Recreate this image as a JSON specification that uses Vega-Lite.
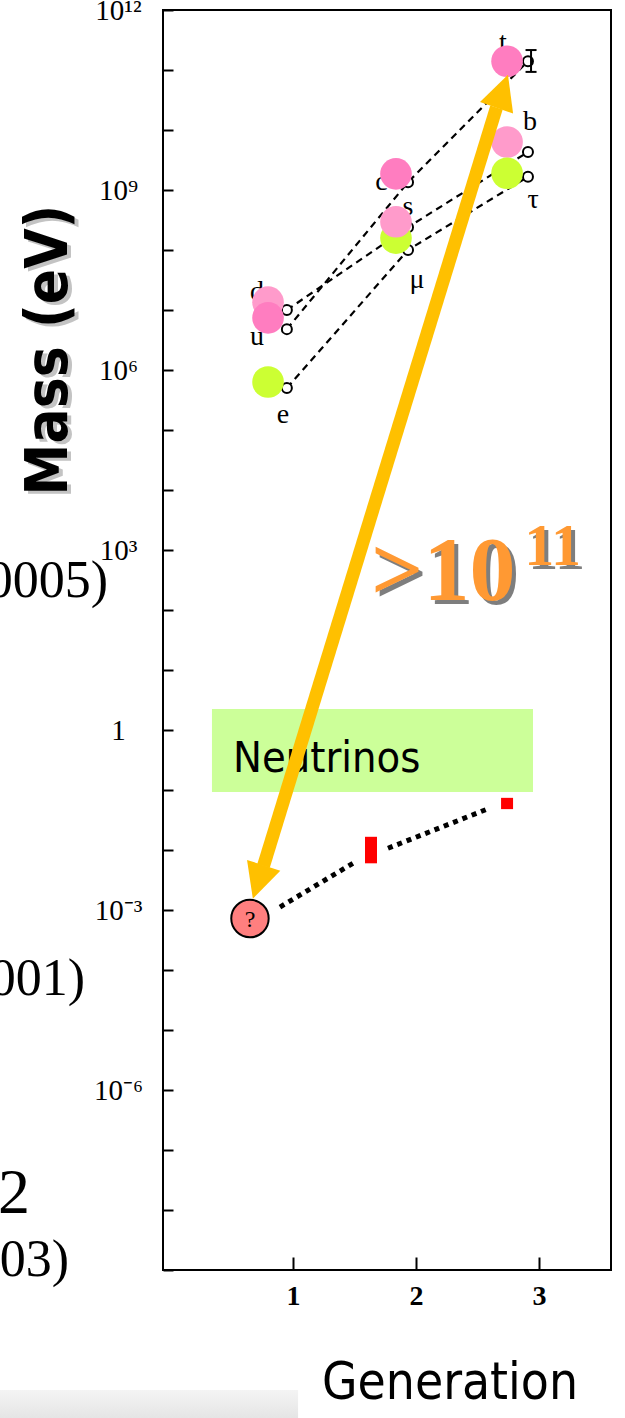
{
  "$schema": "https://vega.github.io/schema/vega-lite/v6.json",
  "width": 448,
  "height": 1260,
  "autosize": {"type": "none"},
  "padding": {"left": 163, "top": 10, "right": 14, "bottom": 148},
  "background": "white",
  "config": {
    "view": {"stroke": "black", "strokeWidth": 2},
    "axis": {"grid": false, "domain": false, "tickColor": "black", "tickWidth": 2, "labelColor": "black", "labelOverlap": false}
  },
  "datasets": {
    "footer_band": [{"g": -1.4, "g2": 1.041, "m": 1e-11, "m2": 1e-12}],
    "side_text": [
      {"kind": "citation", "text": "0005)", "g": -0.504, "m": 164.8},
      {"kind": "citation", "text": "001)", "g": -0.691, "m": 3.83e-5},
      {"kind": "number", "text": "2", "g": -1.138, "m": 8.9e-9},
      {"kind": "citation", "text": "03)", "g": -0.82, "m": 7.94e-10}
    ],
    "neutrino_box": [{"label": "Neutrinos", "g": 0.341, "g2": 2.951, "m": 2.24, "m2": 0.0926, "gl": 0.512, "ml": 0.1995}],
    "fermions": [
      {"particle": "d", "type": "down", "chain": "d-s-b", "g": 0.95, "m": 1.0e7, "gf": 0.797, "mf": 1.35e7, "gl": 0.707, "ml": 2.0e7},
      {"particle": "u", "type": "up", "chain": "u-c-t", "g": 0.95, "m": 4.8e6, "gf": 0.797, "mf": 7.4e6, "gl": 0.707, "ml": 3.5e6},
      {"particle": "e", "type": "lepton", "chain": "e-mu-tau", "g": 0.95, "m": 5.0e5, "gf": 0.797, "mf": 6.3e5, "gl": 0.919, "ml": 1.8e5},
      {"particle": "c", "type": "up", "chain": "u-c-t", "g": 1.935, "m": 1.35e9, "gf": 1.837, "mf": 1.86e9, "gl": 1.72, "ml": 1.35e9},
      {"particle": "μ", "type": "lepton", "chain": "e-mu-tau", "g": 1.935, "m": 1.0e8, "gf": 1.837, "mf": 1.58e8, "gl": 2.008, "ml": 3.2e7},
      {"particle": "s", "type": "down", "chain": "d-s-b", "g": 1.935, "m": 2.4e8, "gf": 1.837, "mf": 2.95e8, "gl": 1.935, "ml": 5.2e8},
      {"particle": "b", "type": "down", "chain": "d-s-b", "g": 2.91, "m": 4.3e9, "gf": 2.74, "mf": 6.3e9, "gl": 2.927, "ml": 1.35e10},
      {"particle": "τ", "type": "lepton", "chain": "e-mu-tau", "g": 2.91, "m": 1.66e9, "gf": 2.74, "mf": 1.9e9, "gl": 2.951, "ml": 6.8e8},
      {"particle": "t", "type": "up", "chain": "u-c-t", "g": 2.91, "m": 1.4e11, "gf": 2.74, "mf": 1.4e11, "gl": 2.707, "ml": 2.8e11}
    ],
    "top_error": [{"g": 2.935, "m": 2.15e11, "m2": 9.3e10}],
    "nu_links": [
      {"seg": "1-2", "g": 0.894, "m": 1.12e-3},
      {"seg": "1-2", "g": 1.504, "m": 6.3e-3},
      {"seg": "2-3", "g": 1.772, "m": 1.07e-2},
      {"seg": "2-3", "g": 2.6, "m": 5.0e-2}
    ],
    "nu_ranges": [
      {"gen": 2, "g": 1.634, "m": 6.0e-3, "m2": 1.66e-2},
      {"gen": 3, "g": 2.74, "m": 4.8e-2, "m2": 7.4e-2}
    ],
    "nu_lightest": [{"label": "?", "g": 0.65, "m": 7.2e-4}],
    "span_shaft": [
      {"end": "low", "g": 0.76, "m": 5.41e-3},
      {"end": "high", "g": 2.654, "m": 2.37e10}
    ],
    "span_heads": [
      {"end": "high", "g": 2.701, "m": 4.43e10},
      {"end": "low", "g": 0.7175, "m": 2.93e-3}
    ],
    "ratio_text": [
      {"part": "base", "text": ">10", "g": 1.634, "m": 146.8},
      {"part": "exp", "text": "11", "g": 2.88, "m": 560}
    ],
    "mass_title": [{"text": "Mass (eV)", "g": -0.976, "m": 2.15e6}]
  },
  "layer": [
    {
      "data": {"name": "footer_band"},
      "mark": {"type": "rect", "color": {"gradient": "linear", "x1": 0, "y1": 0, "x2": 0, "y2": 1, "stops": [{"offset": 0, "color": "#f4f4f4"}, {"offset": 1, "color": "#d4d4d4"}]}},
      "encoding": {
        "x": {
          "field": "g", "type": "quantitative", "title": "Generation",
          "scale": {"domain": [-0.057, 3.585], "zero": false, "nice": false},
          "axis": {
            "values": [1, 2, 3], "format": "d", "tickSize": -13, "labelPadding": 25,
            "labelFont": "Liberation Serif", "labelFontSize": 28, "labelFontWeight": "bold",
            "title": "Generation", "titleFont": "Liberation Sans Narrow, DejaVu Sans Condensed, sans-serif",
            "titleFontSize": 51, "titleFontWeight": "normal", "titleColor": "black",
            "titleX": 286.5, "titleY": 128, "titleBaseline": "alphabetic", "titleAlign": "center"
          }
        },
        "x2": {"field": "g2"},
        "y": {
          "field": "m", "type": "quantitative", "title": "Mass (eV)",
          "scale": {"type": "log", "domain": [1e-9, 1e12], "nice": false},
          "axis": {
            "values": [1e-9, 1e-8, 1e-7, 1e-6, 1e-5, 1e-4, 1e-3, 1e-2, 1e-1, 1, 10, 100, 1000, 1e4, 1e5, 1e6, 1e7, 1e8, 1e9, 1e10, 1e11, 1e12],
            "labelExpr": "['','','','10⁻⁶','','','10⁻³','','','1','','','10³','','','10⁶','','','10⁹','','','10¹²'][round(log(datum.value)/LN10)+9]",
            "tickSize": -10, "labelPadding": 55, "labelAlign": "center", "labelBaseline": "middle",
            "labelFont": "Liberation Serif", "labelFontSize": 29, "title": null
          }
        },
        "y2": {"field": "m2"}
      }
    },
    {
      "data": {"name": "side_text"},
      "transform": [{"filter": "datum.kind == 'citation'"}],
      "mark": {"type": "text", "align": "right", "baseline": "alphabetic", "font": "Liberation Serif", "fontSize": 52, "color": "black"},
      "encoding": {
        "x": {"field": "g", "type": "quantitative", "title": "Generation"},
        "y": {"field": "m", "type": "quantitative", "title": "Mass (eV)"},
        "text": {"field": "text"}
      }
    },
    {
      "data": {"name": "side_text"},
      "transform": [{"filter": "datum.kind == 'number'"}],
      "mark": {"type": "text", "align": "right", "baseline": "alphabetic", "font": "Liberation Serif", "fontSize": 64, "color": "black"},
      "encoding": {
        "x": {"field": "g", "type": "quantitative", "title": "Generation"},
        "y": {"field": "m", "type": "quantitative", "title": "Mass (eV)"},
        "text": {"field": "text"}
      }
    },
    {
      "data": {"name": "neutrino_box"},
      "mark": {"type": "rect", "color": "#CCFF99"},
      "encoding": {
        "x": {"field": "g", "type": "quantitative", "title": "Generation"},
        "x2": {"field": "g2"},
        "y": {"field": "m", "type": "quantitative", "title": "Mass (eV)"},
        "y2": {"field": "m2"}
      }
    },
    {
      "data": {"name": "neutrino_box"},
      "mark": {"type": "text", "align": "left", "baseline": "alphabetic", "font": "Liberation Sans Narrow, DejaVu Sans Condensed, sans-serif", "fontSize": 43, "color": "black"},
      "encoding": {
        "x": {"field": "gl", "type": "quantitative", "title": "Generation"},
        "y": {"field": "ml", "type": "quantitative", "title": "Mass (eV)"},
        "text": {"field": "label"}
      }
    },
    {
      "data": {"name": "fermions"},
      "mark": {"type": "line", "color": "black", "strokeWidth": 2.2, "strokeDash": [7, 5]},
      "encoding": {
        "x": {"field": "g", "type": "quantitative", "title": "Generation"},
        "y": {"field": "m", "type": "quantitative", "title": "Mass (eV)"},
        "detail": {"field": "chain"},
        "order": {"field": "g"}
      }
    },
    {
      "data": {"name": "fermions"},
      "mark": {"type": "point", "shape": "circle", "size": 100, "filled": true, "fill": "white", "stroke": "black", "strokeWidth": 2, "opacity": 1},
      "encoding": {
        "x": {"field": "g", "type": "quantitative", "title": "Generation"},
        "y": {"field": "m", "type": "quantitative", "title": "Mass (eV)"}
      }
    },
    {
      "data": {"name": "top_error"},
      "mark": {"type": "rule", "color": "black", "strokeWidth": 2},
      "encoding": {
        "x": {"field": "g", "type": "quantitative", "title": "Generation"},
        "y": {"field": "m", "type": "quantitative", "title": "Mass (eV)"},
        "y2": {"field": "m2"}
      }
    },
    {
      "data": {"name": "top_error"},
      "mark": {"type": "tick", "orient": "horizontal", "size": 11, "thickness": 2, "color": "black", "opacity": 1},
      "encoding": {
        "x": {"field": "g", "type": "quantitative", "title": "Generation"},
        "y": {"field": "m", "type": "quantitative", "title": "Mass (eV)"}
      }
    },
    {
      "data": {"name": "top_error"},
      "mark": {"type": "tick", "orient": "horizontal", "size": 11, "thickness": 2, "color": "black", "opacity": 1},
      "encoding": {
        "x": {"field": "g", "type": "quantitative", "title": "Generation"},
        "y": {"field": "m2", "type": "quantitative", "title": "Mass (eV)"}
      }
    },
    {
      "data": {"name": "fermions"},
      "mark": {"type": "text", "align": "center", "baseline": "middle", "font": "Liberation Serif", "fontSize": 28, "color": "black"},
      "encoding": {
        "x": {"field": "gl", "type": "quantitative", "title": "Generation"},
        "y": {"field": "ml", "type": "quantitative", "title": "Mass (eV)"},
        "text": {"field": "particle"}
      }
    },
    {
      "data": {"name": "fermions"},
      "mark": {"type": "point", "shape": "circle", "size": 1000, "filled": true, "opacity": 1, "strokeWidth": 0},
      "encoding": {
        "x": {"field": "gf", "type": "quantitative", "title": "Generation"},
        "y": {"field": "mf", "type": "quantitative", "title": "Mass (eV)"},
        "color": {"field": "type", "type": "nominal", "scale": {"domain": ["up", "down", "lepton"], "range": ["#FF7DC0", "#FF9BCB", "#CCFF33"]}, "legend": null}
      }
    },
    {
      "data": {"name": "nu_links"},
      "mark": {"type": "line", "color": "black", "strokeWidth": 5, "strokeDash": [5, 5]},
      "encoding": {
        "x": {"field": "g", "type": "quantitative", "title": "Generation"},
        "y": {"field": "m", "type": "quantitative", "title": "Mass (eV)"},
        "detail": {"field": "seg"},
        "order": {"field": "g"}
      }
    },
    {
      "data": {"name": "nu_ranges"},
      "mark": {"type": "rule", "color": "#FF0000", "strokeWidth": 12},
      "encoding": {
        "x": {"field": "g", "type": "quantitative", "title": "Generation"},
        "y": {"field": "m", "type": "quantitative", "title": "Mass (eV)"},
        "y2": {"field": "m2"}
      }
    },
    {
      "data": {"name": "nu_lightest"},
      "mark": {"type": "point", "shape": "circle", "size": 1400, "filled": true, "fill": "#FF7F7F", "stroke": "black", "strokeWidth": 2, "opacity": 1},
      "encoding": {
        "x": {"field": "g", "type": "quantitative", "title": "Generation"},
        "y": {"field": "m", "type": "quantitative", "title": "Mass (eV)"}
      }
    },
    {
      "data": {"name": "nu_lightest"},
      "mark": {"type": "text", "align": "center", "baseline": "middle", "font": "Liberation Serif", "fontSize": 24, "color": "black", "dy": 1},
      "encoding": {
        "x": {"field": "g", "type": "quantitative", "title": "Generation"},
        "y": {"field": "m", "type": "quantitative", "title": "Mass (eV)"},
        "text": {"field": "label"}
      }
    },
    {
      "data": {"name": "span_shaft"},
      "mark": {"type": "line", "color": "#FFC000", "strokeWidth": 13},
      "encoding": {
        "x": {"field": "g", "type": "quantitative", "title": "Generation"},
        "y": {"field": "m", "type": "quantitative", "title": "Mass (eV)"}
      }
    },
    {
      "data": {"name": "span_heads"},
      "transform": [{"filter": "datum.end == 'high'"}],
      "mark": {"type": "point", "shape": "M0,-1L1,1L-1,1Z", "size": 1225, "angle": 19, "filled": true, "color": "#FFC000", "opacity": 1, "strokeWidth": 0},
      "encoding": {
        "x": {"field": "g", "type": "quantitative", "title": "Generation"},
        "y": {"field": "m", "type": "quantitative", "title": "Mass (eV)"}
      }
    },
    {
      "data": {"name": "span_heads"},
      "transform": [{"filter": "datum.end == 'low'"}],
      "mark": {"type": "point", "shape": "M0,-1L1,1L-1,1Z", "size": 1225, "angle": 198, "filled": true, "color": "#FFC000", "opacity": 1, "strokeWidth": 0},
      "encoding": {
        "x": {"field": "g", "type": "quantitative", "title": "Generation"},
        "y": {"field": "m", "type": "quantitative", "title": "Mass (eV)"}
      }
    },
    {
      "data": {"name": "ratio_text"},
      "mark": {"type": "text", "align": "left", "baseline": "alphabetic", "font": "Liberation Serif", "fontWeight": "bold", "color": "#2a2a2a", "opacity": 0.6, "dx": 4, "dy": 4},
      "encoding": {
        "x": {"field": "g", "type": "quantitative", "title": "Generation"},
        "y": {"field": "m", "type": "quantitative", "title": "Mass (eV)"},
        "text": {"field": "text"},
        "size": {"field": "part", "type": "nominal", "scale": {"domain": ["base", "exp"], "range": [92, 60]}, "legend": null}
      }
    },
    {
      "data": {"name": "ratio_text"},
      "mark": {"type": "text", "align": "left", "baseline": "alphabetic", "font": "Liberation Serif", "fontWeight": "bold", "color": "#FF9933"},
      "encoding": {
        "x": {"field": "g", "type": "quantitative", "title": "Generation"},
        "y": {"field": "m", "type": "quantitative", "title": "Mass (eV)"},
        "text": {"field": "text"},
        "size": {"field": "part", "type": "nominal", "scale": {"domain": ["base", "exp"], "range": [92, 60]}, "legend": null}
      }
    },
    {
      "data": {"name": "mass_title"},
      "mark": {"type": "text", "align": "center", "baseline": "middle", "angle": 270, "font": "Liberation Sans Narrow, DejaVu Sans Condensed, sans-serif", "fontWeight": "bold", "fontSize": 58, "color": "#888888", "opacity": 0.5, "dx": -3, "dy": 4},
      "encoding": {
        "x": {"field": "g", "type": "quantitative", "title": "Generation"},
        "y": {"field": "m", "type": "quantitative", "title": "Mass (eV)"},
        "text": {"field": "text"}
      }
    },
    {
      "data": {"name": "mass_title"},
      "mark": {"type": "text", "align": "center", "baseline": "middle", "angle": 270, "font": "Liberation Sans Narrow, DejaVu Sans Condensed, sans-serif", "fontWeight": "bold", "fontSize": 58, "color": "black"},
      "encoding": {
        "x": {"field": "g", "type": "quantitative", "title": "Generation"},
        "y": {"field": "m", "type": "quantitative", "title": "Mass (eV)"},
        "text": {"field": "text"}
      }
    }
  ]
}
